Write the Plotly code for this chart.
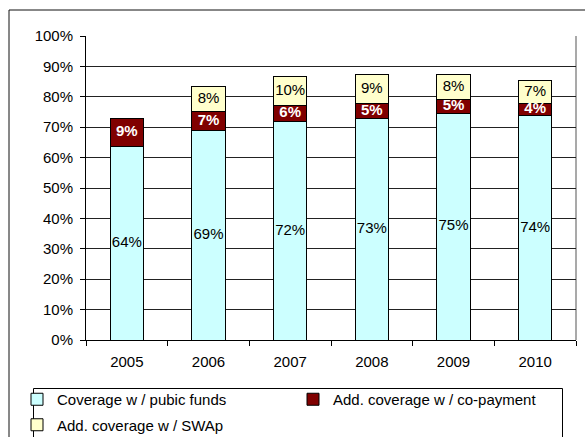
import plotly.graph_objects as go

years = ["2005", "2006", "2007", "2008", "2009", "2010"]
public_funds = [0.638, 0.689, 0.718, 0.729, 0.746, 0.737]
co_payment = [0.089, 0.062, 0.053, 0.050, 0.046, 0.042]
swap = [0.0, 0.084, 0.097, 0.093, 0.080, 0.073]
public_labels = ["64%", "69%", "72%", "73%", "75%", "74%"]
copay_labels = ["9%", "7%", "6%", "5%", "5%", "4%"]
swap_labels = ["", "8%", "10%", "9%", "8%", "7%"]

FONT = "Liberation Sans, Arial, sans-serif"
FS = 15
W, H = 585, 437
L, R, T, B = 86, 9, 36, 97
pw = W - L - R
ph = H - T - B

fig = go.Figure()
line = dict(color="#000000", width=1)
fig.add_trace(go.Bar(name="Coverage w / pubic funds", x=years, y=public_funds,
                     marker=dict(color="#CCFFFF", line=line),
                     legend="legend", legendgroup="a"))
fig.add_trace(go.Bar(name="Add. coverage w / co-payment", x=years, y=co_payment,
                     marker=dict(color="#800000", line=line),
                     legend="legend2", legendgroup="b"))
fig.add_trace(go.Bar(name="Add. coverage w / SWAp", x=years, y=swap,
                     marker=dict(color="#FFFFCC", line=line),
                     legend="legend", legendgroup="c"))

pub_mid = [p / 2 for p in public_funds]
cop_mid = [p + c / 2 for p, c in zip(public_funds, co_payment)]
swp_mid = [p + c + s / 2 for p, c, s in zip(public_funds, co_payment, swap)]

fig.add_trace(go.Scatter(x=years, y=pub_mid, mode="text", text=public_labels,
                         textfont=dict(family=FONT, size=FS, color="#000000"),
                         showlegend=False, hoverinfo="skip"))
fig.add_trace(go.Scatter(x=years, y=cop_mid, mode="text", text=copay_labels,
                         textfont=dict(family=FONT, size=FS, color="#FFFFFF", weight="bold"),
                         showlegend=False, hoverinfo="skip"))
fig.add_trace(go.Scatter(x=years, y=swp_mid, mode="text", text=swap_labels,
                         textfont=dict(family=FONT, size=FS, color="#000000"),
                         showlegend=False, hoverinfo="skip"))

def px_x(px):
    return (px - L) / pw

def px_y(py):
    return (H - B - py) / ph

leg_common = dict(orientation="v", xref="container", yref="container",
                  xanchor="left", yanchor="top", borderwidth=0,
                  bgcolor="rgba(0,0,0,0)",
                  font=dict(family=FONT, size=FS, color="#000000"),
                  traceorder="grouped", tracegroupgap=3)

fig.update_layout(
    width=W, height=H,
    margin=dict(l=L, r=R, t=T, b=B, autoexpand=False),
    paper_bgcolor="white", plot_bgcolor="white",
    barmode="stack", bargap=0.59,
    font=dict(family=FONT, size=FS, color="#000000"),
    showlegend=True,
    legend=dict(x=17 / W, y=1 - 383 / H, **leg_common),
    legend2=dict(x=293 / W, y=1 - 383 / H, **leg_common),
    xaxis=dict(type="category", showline=True, linecolor="#000000", linewidth=1,
               ticks="outside", tickson="boundaries", ticklen=5, tickcolor="#000000",
               showgrid=False, tickfont=dict(size=FS), ticklabelstandoff=8,
               fixedrange=True),
    yaxis=dict(range=[0, 1], dtick=0.1, tickformat=".0%", showline=True,
               linecolor="#000000", linewidth=1, ticks="outside", ticklen=5,
               tickcolor="#000000", showgrid=True, gridcolor="#222222", gridwidth=1,
               zeroline=False, tickfont=dict(size=FS), ticklabelstandoff=4,
               fixedrange=True),
    shapes=[
        dict(type="line", xref="paper", yref="paper", x0=1, x1=1, y0=0, y1=1,
             line=dict(color="#8c8c8c", width=1.5), layer="below"),
        dict(type="rect", xref="paper", yref="paper",
             x0=px_x(9), x1=px_x(595), y0=px_y(450), y1=px_y(10),
             line=dict(color="#111111", width=1), layer="below"),
        dict(type="rect", xref="paper", yref="paper",
             x0=px_x(33.5), x1=px_x(562.5), y0=px_y(450), y1=px_y(388.5),
             line=dict(color="#000000", width=1), layer="below"),
    ],
)

fig.write_html("out.html")
